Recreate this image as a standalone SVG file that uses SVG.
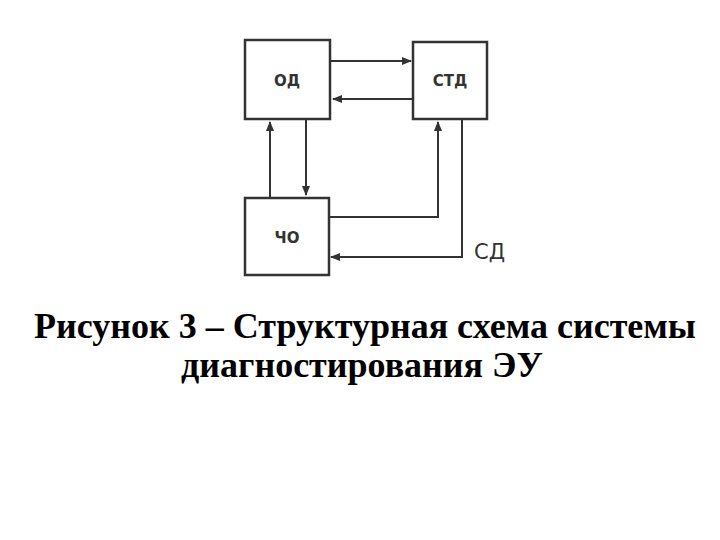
<svg xmlns="http://www.w3.org/2000/svg" width="720" height="540" viewBox="0 0 720 540">
<style>
.box{fill:#fff;stroke:#333;stroke-width:2.5}
.lbl{font-family:"DejaVu Sans",sans-serif;font-weight:bold;font-size:15px;fill:#333;text-anchor:middle}
.ln{fill:none;stroke:#333;stroke-width:2}
.cap{font-family:"Liberation Serif",serif;font-weight:bold;font-size:36px;fill:#000;text-anchor:middle}
</style>
<defs><marker id="a" viewBox="0 0 10 10" refX="9" refY="5" markerWidth="5" markerHeight="5" orient="auto"><path d="M0,1L10,5L0,9z" fill="#333"/></marker></defs>
<rect width="720" height="540" fill="#fff"/>
<g id="od"><rect class="box" x="245" y="40" width="85" height="79"/><text class="lbl" x="287" y="86">ОД</text></g>
<g id="std"><rect class="box" x="413" y="42" width="74" height="77"/><text class="lbl" x="450" y="86">СТД</text></g>
<g id="cho"><rect class="box" x="245" y="198" width="84" height="77"/><text class="lbl" x="287" y="243">ЧО</text></g>
<g id="connectors">
<path class="ln" d="M331,61H411" marker-end="url(#a)"/>
<path class="ln" d="M413,99H333" marker-end="url(#a)"/>
<path class="ln" d="M270,198V122" marker-end="url(#a)"/>
<path class="ln" d="M306,119V195" marker-end="url(#a)"/>
<path class="ln" d="M329,217H438V122" marker-end="url(#a)"/>
<path class="ln" d="M462,119V257H331" marker-end="url(#a)"/>
</g>
<text x="474" y="259" font-family="DejaVu Sans,sans-serif" font-size="21" fill="#333">СД</text>
<text class="cap" x="365" y="338">Рисунок 3 – Структурная схема системы</text>
<text class="cap" x="362" y="377">диагностирования ЭУ</text>
</svg>
